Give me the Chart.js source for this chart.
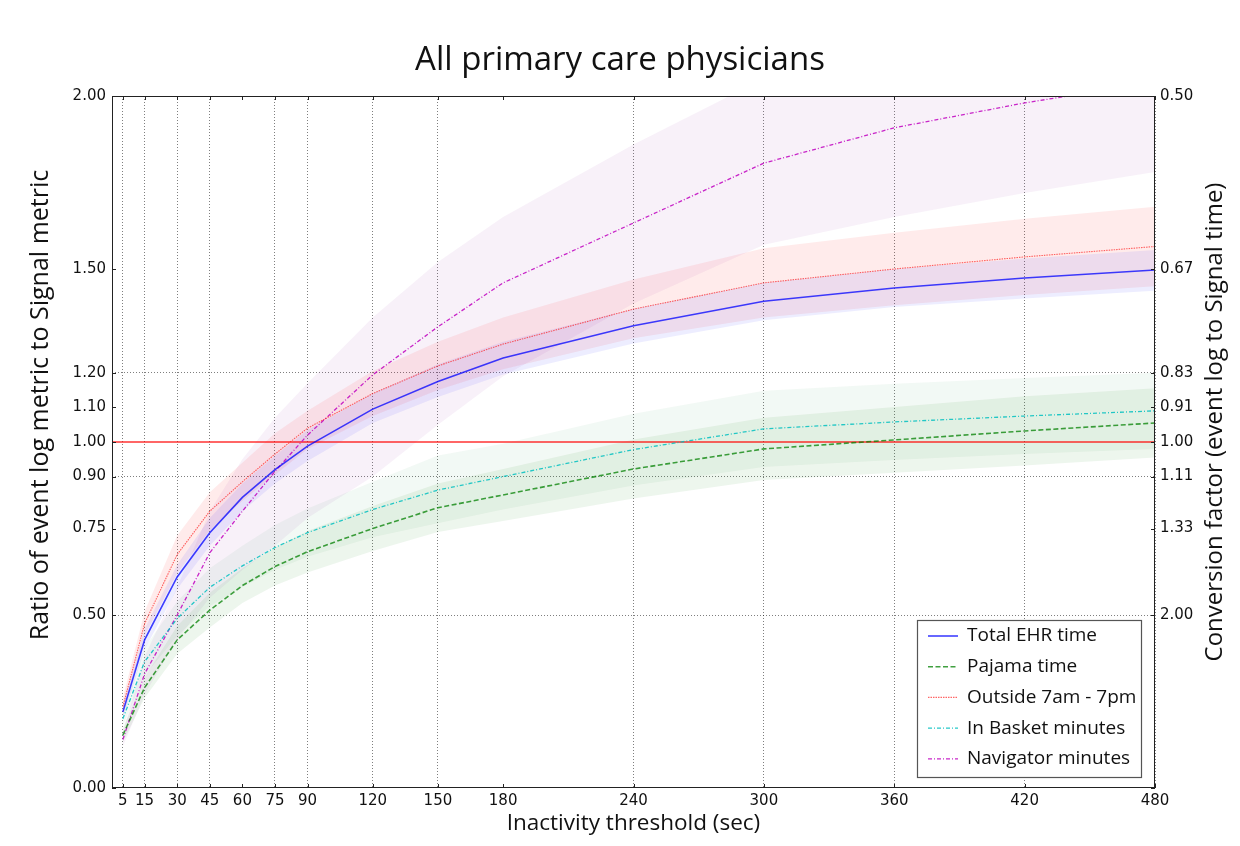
<!DOCTYPE html>
<html>
<head>
<meta charset="utf-8">
<script src="https://cdn.jsdelivr.net/npm/chart.js@4.4.0/dist/chart.umd.min.js"></script>
<style>
  body { margin: 0; background: #fff; }
  #wrap { width: 1240px; height: 846px; }
</style>
</head>
<body>
<div id="wrap"><canvas id="chart"></canvas></div>
<script>
// inactivity thresholds (sec)
const thresholds = [5, 15, 30, 45, 60, 75, 90, 120, 150, 180, 240, 300, 360, 420, 480];
const xTicks = [5, 15, 30, 45, 60, 75, 90, 120, 150, 180, 240, 300, 360, 420, 480];
const xGridSkip = [60, 180];
const yTicks = [0, 0.5, 0.75, 0.9, 1.0, 1.1, 1.2, 1.5, 2.0];
const yTickLabels = ['0.00', '0.50', '0.75', '0.90', '1.00', '1.10', '1.20', '1.50', '2.00'];
const yGridAt = [0.5, 0.9, 1.2];
const rightTicks = [0.5, 0.75, 0.9, 1.0, 1.1, 1.2, 1.5, 2.0];
const rightTickLabels = ['2.00', '1.33', '1.11', '1.00', '0.91', '0.83', '0.67', '0.50'];
const refLine = 1.0;

const seriesNames = ['Total EHR time', 'Pajama time', 'Outside 7am - 7pm', 'In Basket minutes', 'Navigator minutes'];

const totalEhr   = [0.22, 0.428, 0.61, 0.738, 0.84, 0.92, 0.988, 1.095, 1.175, 1.243, 1.336, 1.407, 1.445, 1.474, 1.497];
const totalEhrLo = [0.20, 0.40, 0.575, 0.70, 0.80, 0.88, 0.945, 1.055, 1.13, 1.195, 1.285, 1.352, 1.39, 1.415, 1.437];
const totalEhrHi = [0.24, 0.46, 0.645, 0.78, 0.88, 0.96, 1.035, 1.14, 1.225, 1.29, 1.385, 1.46, 1.50, 1.53, 1.555];

const pajama   = [0.153, 0.29, 0.428, 0.514, 0.585, 0.64, 0.683, 0.75, 0.81, 0.847, 0.922, 0.98, 1.006, 1.032, 1.055];
const pajamaLo = [0.133, 0.26, 0.388, 0.464, 0.535, 0.585, 0.623, 0.685, 0.74, 0.772, 0.837, 0.89, 0.911, 0.932, 0.955];
const pajamaHi = [0.173, 0.32, 0.468, 0.564, 0.635, 0.695, 0.743, 0.815, 0.88, 0.922, 1.007, 1.07, 1.101, 1.132, 1.155];

const outside   = [0.235, 0.475, 0.675, 0.80, 0.885, 0.965, 1.04, 1.14, 1.22, 1.283, 1.384, 1.46, 1.50, 1.535, 1.565];
const outsideLo = [0.21, 0.44, 0.62, 0.745, 0.83, 0.905, 0.98, 1.075, 1.15, 1.21, 1.30, 1.36, 1.395, 1.425, 1.45];
const outsideHi = [0.26, 0.51, 0.73, 0.855, 0.94, 1.025, 1.09, 1.205, 1.29, 1.36, 1.47, 1.56, 1.605, 1.645, 1.68];

const inBasket   = [0.20, 0.365, 0.49, 0.58, 0.642, 0.695, 0.738, 0.805, 0.861, 0.90, 0.978, 1.038, 1.058, 1.075, 1.09];
const inBasketLo = [0.18, 0.325, 0.44, 0.525, 0.58, 0.63, 0.668, 0.725, 0.765, 0.805, 0.874, 0.928, 0.948, 0.965, 0.98];
const inBasketHi = [0.22, 0.405, 0.54, 0.635, 0.70, 0.76, 0.808, 0.885, 0.961, 0.995, 1.082, 1.148, 1.168, 1.185, 1.20];

const navMinutes   = [0.14, 0.33, 0.50, 0.68, 0.80, 0.915, 1.02, 1.194, 1.333, 1.46, 1.633, 1.806, 1.908, 1.98, 2.04];
const navMinutesLo = [0.12, 0.27, 0.43, 0.55, 0.63, 0.70, 0.78, 0.90, 1.05, 1.19, 1.40, 1.57, 1.65, 1.72, 1.78];
const navMinutesHi = [0.16, 0.38, 0.58, 0.80, 0.95, 1.07, 1.17, 1.36, 1.52, 1.65, 1.86, 2.05, 2.18, 2.28, 2.36];

const series = [
  { mid: totalEhr, lo: totalEhrLo, hi: totalEhrHi },
  { mid: pajama, lo: pajamaLo, hi: pajamaHi },
  { mid: outside, lo: outsideLo, hi: outsideHi },
  { mid: inBasket, lo: inBasketLo, hi: inBasketHi },
  { mid: navMinutes, lo: navMinutesLo, hi: navMinutesHi }
];

const styles = [
  { color: 'rgba(0,0,255,0.75)',   width: 1.6, dash: [],           band: 'rgba(0,0,255,0.07)' },
  { color: 'rgba(0,128,0,0.75)',   width: 1.6, dash: [5, 2.5],     band: 'rgba(0,128,0,0.07)' },
  { color: 'rgba(255,0,0,0.6)',    width: 1.1, dash: [1.5, 1],     band: 'rgba(255,0,0,0.08)' },
  { color: 'rgba(0,191,191,0.85)', width: 1.3, dash: [4, 2, 1, 2], band: 'rgba(0,140,60,0.05)' },
  { color: 'rgba(191,0,191,0.85)', width: 1.3, dash: [4, 2, 1, 2], band: 'rgba(150,50,170,0.07)' }
];

const toPoints = arr => thresholds.map((x, i) => ({ x: x, y: arr[i] }));

const datasets = [];
series.forEach((s, i) => {
  datasets.push({
    label: seriesNames[i],
    data: toPoints(s.mid),
    borderColor: styles[i].color,
    borderWidth: styles[i].width,
    borderDash: styles[i].dash,
    pointRadius: 0,
    fill: false,
    order: 0
  });
});
datasets.push({
  label: 'ref',
  data: [{ x: 0, y: refLine }, { x: 480, y: refLine }],
  borderColor: 'rgba(255,0,0,0.8)',
  borderWidth: 1.6,
  pointRadius: 0,
  fill: false,
  order: 1
});
series.forEach((s, i) => {
  datasets.push({
    label: 'lo' + i,
    data: toPoints(s.lo),
    borderWidth: 0,
    pointRadius: 0,
    fill: false,
    order: 2
  });
  datasets.push({
    label: 'hi' + i,
    data: toPoints(s.hi),
    borderWidth: 0,
    pointRadius: 0,
    backgroundColor: styles[i].band,
    fill: '-1',
    order: 2
  });
});

const tickFont = { family: 'DejaVu Sans', size: 15 };
const gridGray = 'rgba(0,0,0,0.5)';

// box round the plot + inward tick marks
const frame = {
  id: 'frame',
  afterDatasetsDraw(chart) {
    const { ctx, chartArea: a, scales } = chart;
    ctx.save();
    ctx.strokeStyle = '#222';
    ctx.lineWidth = 1;
    ctx.strokeRect(a.left + 0.5, a.top + 0.5, a.width - 1, a.height - 1);
    ctx.beginPath();
    xTicks.forEach(v => {
      const x = Math.round(scales.x.getPixelForValue(v)) + 0.5;
      ctx.moveTo(x, a.bottom); ctx.lineTo(x, a.bottom - 4);
      ctx.moveTo(x, a.top); ctx.lineTo(x, a.top + 4);
    });
    yTicks.forEach(v => {
      const y = Math.round(scales.y.getPixelForValue(v)) + 0.5;
      ctx.moveTo(a.left, y); ctx.lineTo(a.left + 4, y);
      ctx.moveTo(a.right, y); ctx.lineTo(a.right - 4, y);
    });
    ctx.stroke();
    ctx.restore();
  }
};

const axisTitles = {
  id: 'axisTitles',
  afterDraw(chart) {
    const ctx = chart.ctx;
    ctx.save();
    ctx.fillStyle = '#111';
    ctx.textAlign = 'center';
    ctx.textBaseline = 'middle';
    ctx.save();
    ctx.font = '25px "Open Sans"';
    ctx.translate(41, 405);
    ctx.rotate(-Math.PI / 2);
    ctx.fillText('Ratio of event log metric to Signal metric', 0, 0);
    ctx.restore();
    ctx.font = '24px "Open Sans"';
    ctx.translate(1215, 422);
    ctx.rotate(-Math.PI / 2);
    ctx.fillText('Conversion factor (event log to Signal time)', 0, 0);
    ctx.restore();
  }
};

const cornerLegend = {
  id: 'cornerLegend',
  afterDraw(chart) {
    const { ctx, chartArea: a } = chart;
    const w = 224, h = 157;
    const left = a.right - 14 - w, top = a.bottom - 11 - h;
    ctx.save();
    ctx.fillStyle = '#fff';
    ctx.fillRect(left, top, w, h);
    ctx.strokeStyle = '#555';
    ctx.lineWidth = 1.2;
    ctx.strokeRect(left + 0.5, top + 0.5, w, h);
    ctx.font = '19px "Open Sans"';
    ctx.textBaseline = 'middle';
    seriesNames.forEach((name, i) => {
      const y = top + 16 + i * 30.7;
      const st = styles[i];
      ctx.strokeStyle = st.color;
      ctx.lineWidth = st.width;
      ctx.setLineDash(st.dash);
      ctx.beginPath();
      ctx.moveTo(left + 11, y);
      ctx.lineTo(left + 41, y);
      ctx.stroke();
      ctx.setLineDash([]);
      ctx.fillStyle = '#111';
      ctx.fillText(name, left + 50, y);
    });
    ctx.restore();
  }
};

new Chart(document.getElementById('chart'), {
  type: 'line',
  data: { datasets: datasets },
  plugins: [frame, axisTitles, cornerLegend],
  options: {
    animation: false,
    responsive: true,
    maintainAspectRatio: false,
    layout: { padding: 0 },
    elements: { line: { tension: 0 } },
    plugins: {
      legend: { display: false },
      tooltip: { enabled: false },
      title: {
        display: true,
        text: 'All primary care physicians',
        color: '#111',
        font: { family: 'Open Sans', size: 33, weight: 'normal' },
        padding: { top: 41, bottom: 15.4 }
      }
    },
    scales: {
      x: {
        type: 'linear',
        min: 0,
        max: 480,
        afterBuildTicks: s => { s.ticks = xTicks.map(v => ({ value: v })); },
        afterFit: s => { s.height = 58; },
        ticks: { autoSkip: false, maxRotation: 0, padding: 4, font: tickFont, color: '#111', callback: v => String(v) },
        grid: {
          drawTicks: false,
          lineWidth: 1,
          color: c => (c.tick && xGridSkip.includes(c.tick.value)) ? 'transparent' : gridGray
        },
        border: { display: false, dash: [1, 2] },
        title: {
          display: true,
          text: 'Inactivity threshold (sec)',
          color: '#111',
          font: { family: 'Open Sans', size: 22.5 },
          padding: { top: 0, bottom: 9 }
        }
      },
      y: {
        type: 'linear',
        position: 'left',
        min: 0,
        max: 2,
        afterBuildTicks: s => { s.ticks = yTicks.map(v => ({ value: v })); },
        afterFit: s => { s.width = 112; },
        ticks: { autoSkip: false, padding: 6, font: tickFont, color: '#111', callback: (v, i) => yTickLabels[i] },
        grid: {
          drawTicks: false,
          lineWidth: 1,
          color: c => (c.tick && yGridAt.includes(c.tick.value)) ? gridGray : 'transparent'
        },
        border: { display: false, dash: [1, 2] }
      },
      y2: {
        type: 'linear',
        position: 'right',
        min: 0,
        max: 2,
        afterBuildTicks: s => { s.ticks = rightTicks.map(v => ({ value: v })); },
        afterFit: s => { s.width = 85; },
        ticks: { autoSkip: false, padding: 5, font: tickFont, color: '#111', callback: (v, i) => rightTickLabels[i] },
        grid: { drawOnChartArea: false, drawTicks: false },
        border: { display: false }
      }
    }
  }
});
</script>
</body>
</html>
